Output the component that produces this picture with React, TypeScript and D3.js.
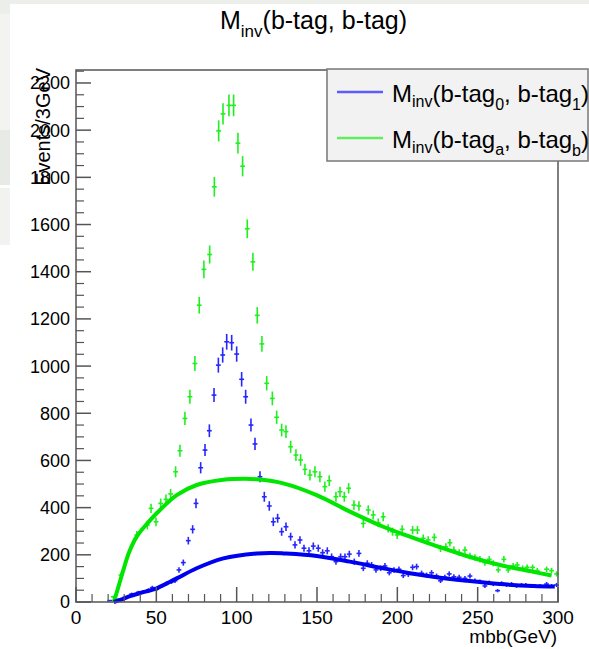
import React from "react";
import * as d3 from "d3";

const W = 589;
const H = 649;

// Histogram points: [mbb (GeV), events per 3 GeV]
const greenPoints: [number, number][] = [
  [23.2, 22], [28, 114], [37.8, 284], [44.4, 326], [46.7, 397], [49.8, 340], [52.7, 418], [56, 435],
  [58.9, 458], [62, 552], [64.7, 641], [67.8, 778], [70.9, 870], [74, 1011], [76.7, 1258], [79.6, 1410],
  [83.2, 1473], [86.1, 1760], [88.8, 1997], [91.5, 2069], [95.2, 2105], [98.1, 2105], [100.8, 1945],
  [103.7, 1847], [106.6, 1582], [110.1, 1442], [112.8, 1215], [115.7, 1094], [118.7, 927], [122.2, 863],
  [124.9, 783], [128, 729], [130.7, 722], [133.6, 658], [136.9, 623], [139.8, 602], [142.5, 562],
  [145.6, 538], [148.7, 552], [151.8, 531], [154.9, 489], [157.6, 514], [161.8, 446], [164.3, 467],
  [167, 446], [169.7, 482], [173, 411], [176.1, 407], [178.8, 333], [181.9, 390], [185, 369], [188.1, 336],
  [191.2, 361], [194.3, 312], [197, 298], [199.9, 284], [203, 308], [209.5, 305], [212.5, 305],
  [216.1, 270], [219.2, 263], [223, 274], [226.9, 227], [230.2, 234], [232.7, 251], [235.2, 220],
  [238.5, 209], [242.1, 220], [245.2, 195], [248.3, 189], [251.4, 181], [254.5, 167], [257.2, 181],
  [259.7, 164], [262.8, 136], [266.3, 181], [269, 136], [272.1, 153], [274.6, 157], [278, 143],
  [280.8, 147], [284.2, 147], [287.1, 133], [292.9, 139], [296, 133], [299.1, 119],
];

const bluePoints: [number, number][] = [
  [21, 6], [25.3, 11], [30.5, 20], [34.7, 34], [38.8, 41], [41.9, 44], [45, 51], [47.5, 61], [50.2, 54],
  [53.3, 68], [56.4, 79], [59.5, 86], [61.6, 90], [64.1, 136], [66.8, 167], [69.9, 260], [72.6, 308],
  [74.7, 418], [77.6, 569], [80.3, 644], [83, 726], [85.9, 877], [88.6, 1004], [91.3, 1047], [93.8, 1103],
  [96.9, 1099], [100, 1051], [103.1, 944], [105.6, 870], [108.9, 750], [111.4, 670], [114.5, 531],
  [117.2, 446], [120.3, 407], [122.8, 340], [125.5, 355], [128, 298], [130.7, 319], [133.6, 277],
  [136.3, 242], [139.4, 263], [141.9, 228], [145, 217], [147.7, 237], [150.8, 228], [153.5, 209],
  [156.4, 217], [159.1, 192], [161.8, 171], [164.7, 192], [167.4, 192], [170.1, 203], [173.2, 171],
  [176.1, 206], [178.8, 143], [181.3, 164], [184, 157], [186.7, 136], [189.6, 143], [192.3, 153],
  [195, 124], [197.9, 136], [201, 139], [203.7, 112], [206.8, 117], [209.5, 147], [212, 150],
  [215.1, 122], [218.2, 114], [221.3, 124], [224.4, 110], [226.9, 90], [229.6, 105], [232.3, 119],
  [235.2, 107], [238.5, 105], [242.1, 100], [245.2, 110], [248.3, 90], [251.4, 86], [254.5, 68],
  [257.2, 82], [259.7, 76], [262.4, 48], [264.9, 79], [268, 72], [271.1, 76], [274.2, 68], [277.3, 72],
  [280, 72], [282.9, 68], [285.6, 68], [288.7, 68], [292.9, 76], [296, 68], [299.1, 72],
];

// Fitted curves
const greenFit: [number, number][] = [
  [23.5, 0], [26, 55], [29.5, 136], [33, 210], [37.8, 277], [44, 330], [50.2, 376], [62.7, 453],
  [75.1, 496], [91.7, 518], [105, 522], [112.4, 520], [129, 503], [149.8, 453], [170.5, 383],
  [191.2, 319], [207.8, 277], [222.3, 242], [243.1, 195], [263.8, 157], [284.6, 128], [296, 112],
];

const blueFit: [number, number][] = [
  [23.5, 0], [28, 10], [33.6, 25], [40, 38], [50.2, 58], [62.7, 100], [75.1, 143], [91.7, 185],
  [112.4, 206], [122, 208], [129, 206], [149.8, 195], [170.5, 171], [191.2, 143], [207.8, 122],
  [222.3, 107], [243.1, 90], [263.8, 76], [284.6, 68], [298, 66],
];

const xMajorTicks = [0, 50, 100, 150, 200, 250, 300];
const yMajorTicks = [0, 200, 400, 600, 800, 1000, 1200, 1400, 1600, 1800, 2000, 2200];

const FONT = "'Liberation Sans', Arial, Helvetica, sans-serif";
const AXIS = "#555";

export default function App() {
  const x = d3.scaleLinear().domain([0, 300]).range([76, 558]);
  const y = d3.scaleLinear().domain([0, 2255]).range([602, 70]);

  const xMinor = d3.range(0, 301, 10).filter((v) => v % 50 !== 0);
  const yMinor = d3.range(0, 2256, 50).filter((v) => v % 200 !== 0);

  const fitLine = d3
    .line<[number, number]>()
    .x((d) => x(d[0]))
    .y((d) => y(d[1]))
    .curve(d3.curveCatmullRom.alpha(0.5));

  const renderPoints = (pts: [number, number][], color: string, key: string) =>
    pts.map(([m, v], i) => {
      const e = Math.sqrt(v);
      const lo = Math.max(0, v - e);
      return (
        <g key={key + i}>
          <line x1={x(m)} x2={x(m)} y1={y(lo)} y2={y(v + e)} stroke={color} strokeWidth={1.6} />
          <line x1={x(m - 1.5)} x2={x(m + 1.5)} y1={y(v)} y2={y(v)} stroke={color} strokeWidth={1.6} />
        </g>
      );
    });

  return (
    <div style={{ position: "absolute", left: 0, top: 0 }}>
      <svg width={W} height={H} style={{ display: "block", fontFamily: FONT }}>
        <rect x={0} y={0} width={W} height={H} fill="#ffffff" />
        {/* screenshot surroundings */}
        <rect x={0} y={0} width={W} height={4} fill="#eceee9" />
        <rect x={0} y={0} width={10} height={14} fill="#eceee9" />
        <rect x={0} y={14} width={10} height={116} fill="#f3f4f1" />
        <rect x={0} y={130} width={10} height={55} fill="#e8eae6" />
        <rect x={0} y={188} width={10} height={57} fill="#f2f3f0" />

        {/* Title */}
        <text x={220} y={29} fontSize={25} fill="#000">
          M<tspan fontSize={17} dy={8}>inv</tspan>
          <tspan fontSize={25} dy={-8}>(b-tag, b-tag)</tspan>
        </text>

        {/* Data points */}
        {renderPoints(greenPoints, "#1ef01e", "g")}
        {renderPoints(bluePoints, "#2626ff", "b")}

        {/* Fits */}
        <path d={fitLine(greenFit) || ""} fill="none" stroke="#00e600" strokeWidth={4} />
        <path d={fitLine(blueFit) || ""} fill="none" stroke="#0000f0" strokeWidth={4} />

        {/* Frame */}
        <rect x={76} y={70} width={482} height={532} fill="none" stroke={AXIS} strokeWidth={1.5} />

        {/* X ticks */}
        {xMajorTicks.map((t) => (
          <g key={"xm" + t}>
            <line x1={x(t)} x2={x(t)} y1={602} y2={587} stroke={AXIS} strokeWidth={1.5} />
            <text x={x(t)} y={624} fontSize={19} textAnchor="middle" fill="#000">
              {t}
            </text>
          </g>
        ))}
        {xMinor.map((t) => (
          <line key={"xn" + t} x1={x(t)} x2={x(t)} y1={602} y2={594} stroke={AXIS} strokeWidth={1.2} />
        ))}

        {/* Y ticks */}
        {yMajorTicks.map((t) => (
          <g key={"ym" + t}>
            <line x1={76} x2={91} y1={y(t)} y2={y(t)} stroke={AXIS} strokeWidth={1.5} />
            <text x={70} y={y(t)} dy="0.36em" fontSize={18} textAnchor="end" fill="#000">
              {t}
            </text>
          </g>
        ))}
        {yMinor.map((t) => (
          <line key={"yn" + t} x1={76} x2={84} y1={y(t)} y2={y(t)} stroke={AXIS} strokeWidth={1.2} />
        ))}

        {/* Axis titles */}
        <text x={557} y={643} fontSize={19} textAnchor="end" fill="#000">
          mbb(GeV)
        </text>
        <text
          transform="translate(50,68) rotate(-90)"
          fontSize={20}
          textAnchor="end"
          fill="#000"
        >
          Events/3GeV
        </text>

        {/* Legend */}
        <rect x={327} y={69} width={261} height={92} fill="#f2f2f2" stroke="#777" strokeWidth={1.5} />
        <line x1={337} x2={383} y1={92} y2={92} stroke="#5c5cff" strokeWidth={2.5} />
        <line x1={337} x2={383} y1={138} y2={138} stroke="#5cf05c" strokeWidth={2.5} />
        <text x={392} y={102} fontSize={24} fill="#000">
          M<tspan fontSize={16} dy={5}>inv</tspan>
          <tspan fontSize={24} dy={-5}>(b-tag</tspan>
          <tspan fontSize={16} dy={8}>0</tspan>
          <tspan fontSize={24} dy={-8}>, b-tag</tspan>
          <tspan fontSize={16} dy={8}>1</tspan>
          <tspan fontSize={24} dy={-8}>)</tspan>
        </text>
        <text x={392} y={148} fontSize={24} fill="#000">
          M<tspan fontSize={16} dy={5}>inv</tspan>
          <tspan fontSize={24} dy={-5}>(b-tag</tspan>
          <tspan fontSize={16} dy={7}>a</tspan>
          <tspan fontSize={24} dy={-7}>, b-tag</tspan>
          <tspan fontSize={16} dy={8}>b</tspan>
          <tspan fontSize={24} dy={-8}>)</tspan>
        </text>
      </svg>
    </div>
  );
}
